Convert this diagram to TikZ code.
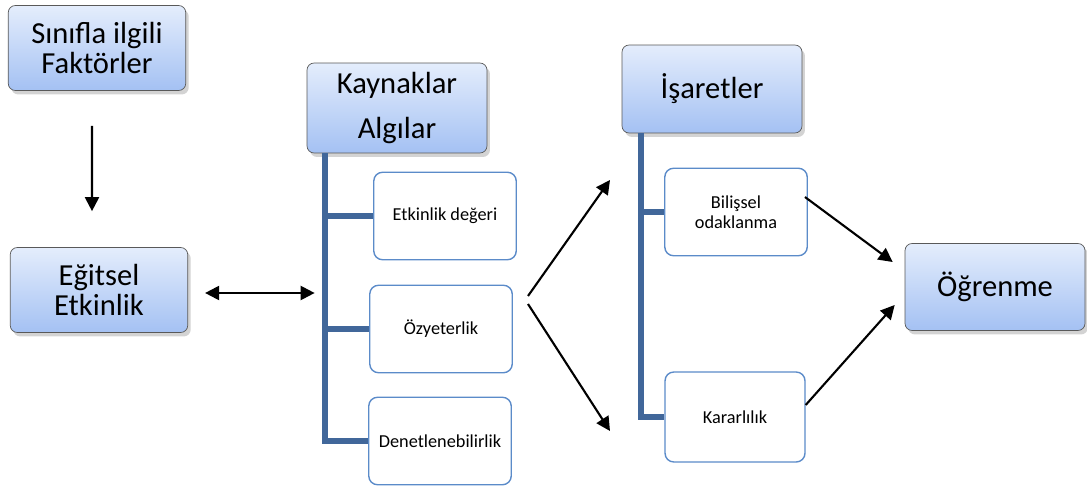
\documentclass[tikz,border=0pt]{standalone}
\usepackage{fontspec}
\setmainfont{Carlito}
\usetikzlibrary{shadows, arrows.meta}
\definecolor{topblue}{HTML}{E4EDFC}
\definecolor{botblue}{HTML}{A4C1F3}
\definecolor{edgeblue}{HTML}{5B8BC9}
\definecolor{barblue}{HTML}{41679A}

\begin{document}
\begin{tikzpicture}[x=0.02cm, y=-0.02cm, >={Triangle[length=2.8mm, width=2.8mm]}]
        \tikzstyle{every node}=[align=center, inner sep=2pt]
        \tikzstyle{bigbox}=[draw=gray!70!black, rounded corners=4pt, top color=topblue, bottom color=botblue, font=\fontsize{17.4}{17}\selectfont, minimum width=3.55cm, minimum height=1.7cm, drop shadow={opacity=0.35, shadow xshift=0.6mm, shadow yshift=-0.8mm}]
        \tikzstyle{smallbox}=[draw=edgeblue, line width=0.8pt, rounded corners=5pt, fill=white, font=\fontsize{10.4}{11.3}\selectfont, minimum width=2.85cm, minimum height=1.75cm]
        \tikzstyle{bar}=[draw=barblue, line width=3.4pt]
        \tikzstyle{arr}=[line width=1.2pt]

        \useasboundingbox (0,0) rectangle (1087,489);

% left column
        \node[bigbox] (sinif) at (97,48) {Sınıfla ilgili\\Faktörler};
        \node[bigbox] (egitsel) at (99,290) {Eğitsel\\Etkinlik};

% Kaynaklar Algılar and its three items
        \node[bigbox, font=\fontsize{17.4}{25.5}\selectfont, minimum width=3.6cm, minimum height=1.8cm] (kaynak) at (397,108) {Kaynaklar\\Algılar};
        \node[smallbox] (etkin) at (445,216) {Etkinlik değeri};
        \node[smallbox] (ozyet) at (441,329) {Özyeterlik};
        \node[smallbox] (denet) at (440,441) {Denetlenebilirlik};

% İşaretler and its two items
        \node[bigbox, minimum width=3.6cm, minimum height=1.76cm] (isaret) at (712,89) {İşaretler};
        \node[smallbox] (bilis) at (736,212) {Bilişsel\\odaklanma};
        \node[smallbox, minimum width=2.8cm, minimum height=1.8cm] (karar) at (735,417) {Kararlılık};

        \node[bigbox, minimum width=3.6cm, minimum height=1.74cm] (ogren) at (995,287) {Öğrenme};

% tree bars
        \draw[bar] ([xshift=0.36cm]kaynak.south west) coordinate (kb) |- (denet.west);
        \draw[bar] (kb |- etkin.west) -- (etkin.west);
        \draw[bar] (kb |- ozyet.west) -- (ozyet.west);
        \draw[bar] ([xshift=0.38cm]isaret.south west) coordinate (ib) |- (karar.west);
        \draw[bar] (ib |- bilis.west) -- (bilis.west);

% arrows
        \draw[arr, ->] ([xshift=-0.1cm, yshift=-0.7cm]sinif.south) -- ([xshift=-0.14cm, yshift=0.72cm]egitsel.north);
        \draw[arr, <->] ([xshift=0.34cm, yshift=-0.06cm]egitsel.east) coordinate (e1) -- ([xshift=-0.2cm]kb |- e1);
        \coordinate (split) at (528,300);
        \draw[arr, ->] ([yshift=0.08cm]split) -- (610,180);
        \draw[arr, ->] ([yshift=-0.08cm]split) -- (610,431);
        \draw[arr, ->] ([xshift=-0.06cm, yshift=0.3cm]bilis.east) -- ([xshift=-0.24cm, yshift=0.5cm]ogren.west);
        \draw[arr, ->] ([yshift=0.24cm]karar.east) -- ([xshift=-0.2cm, yshift=-0.36cm]ogren.west);

    \end{tikzpicture}
\end{document}
